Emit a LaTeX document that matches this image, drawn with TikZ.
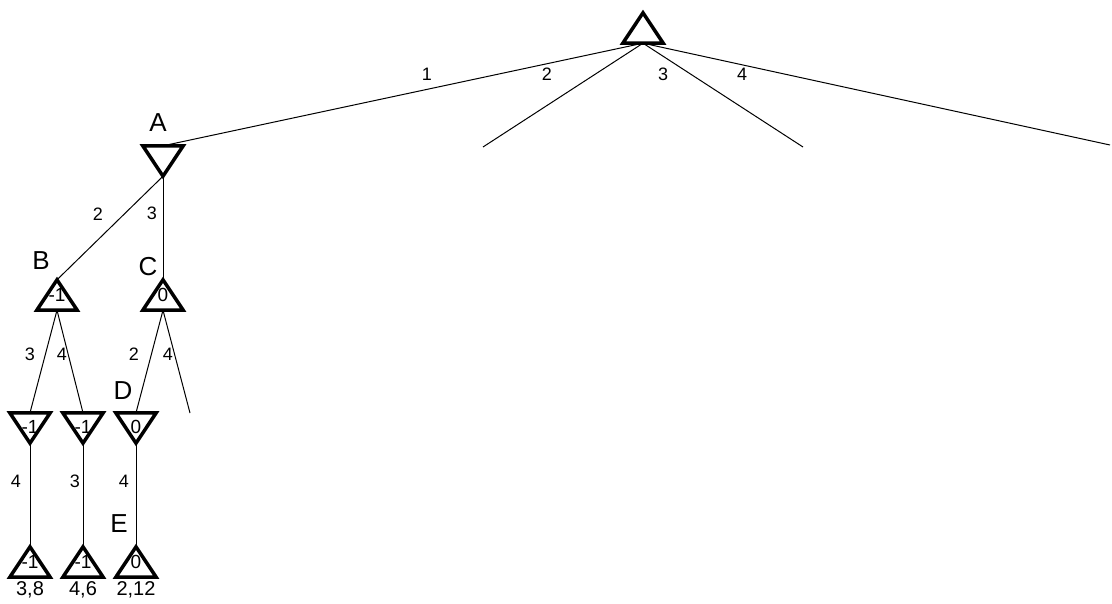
\documentclass[tikz,border=0pt]{standalone}
\usepackage{fontspec}
\setmainfont{Liberation Sans}
\begin{document}
\begin{tikzpicture}[x=1pt,y=-1pt,
  box/.style={minimum width=40pt,minimum height=30pt,inner sep=0pt,font=\fontsize{19}{19}\selectfont},
  tri/.style={line width=3.5pt,line join=miter},
  edge/.style={line width=1pt},
  elab/.style={font=\fontsize{18}{18}\selectfont,inner sep=0pt},
  nlab/.style={font=\fontsize{26}{26}\selectfont,inner sep=0pt},
  blab/.style={font=\fontsize{20}{20}\selectfont,inner sep=0pt}]
\useasboundingbox (0,0) rectangle (1112,603);
% nodes
\node[box] (R) at (643,28) {};
\node[box] (A) at (163,161) {};
\node[box] (B) at (57,295) {\raisebox{-3.5pt}{-1}};
\node[box] (C) at (163,295) {\raisebox{-3.5pt}{0}};
\node[box] (L1) at (30,428) {\raisebox{2.5pt}{-1}};
\node[box] (L2) at (83,428) {\raisebox{2.5pt}{-1}};
\node[box] (D) at (136,428) {\raisebox{2.5pt}{0}};
\node[box] (M1) at (30,562) {\raisebox{-3.5pt}{-1}};
\node[box] (M2) at (83,562) {\raisebox{-3.5pt}{-1}};
\node[box] (E) at (136,562) {\raisebox{-3.5pt}{0}};
\coordinate (f2) at (483,147);
\coordinate (f3) at (803,147);
\coordinate (f4) at (1110,145);
\coordinate (fc) at (190,413);
% triangles
\foreach \n in {R,B,C,M1,M2,E}
  \draw[tri] (\n.south west) -- (\n.south east) -- (\n.north) -- cycle;
\foreach \n in {A,L1,L2,D}
  \draw[tri] (\n.north west) -- (\n.north east) -- (\n.south) -- cycle;
% connectors
\draw[edge] (R.south) -- (A.north);
\draw[edge] (R.south) -- (f2);
\draw[edge] (R.south) -- (f3);
\draw[edge] (R.south) -- (f4);
\draw[edge] (A.south) -- (B.north);
\draw[edge] (A.south) -- (C.north);
\draw[edge] (B.south) -- (L1.north);
\draw[edge] (B.south) -- (L2.north);
\draw[edge] (C.south) -- (D.north);
\draw[edge] (C.south) -- (fc);
\draw[edge] (L1.south) -- (M1.north);
\draw[edge] (L2.south) -- (M2.north);
\draw[edge] (D.south) -- (E.north);
% edge labels
\node[elab] (e1) at (427,74) {1};
\node[elab] (e2) at (547,74) {2};
\node[elab] (e3) at (663,74) {3};
\node[elab] (e4) at (742,74) {4};
\node[elab] (e5) at (98,214) {2};
\node[elab] (e6) at (152,213) {3};
\node[elab] (e7) at (30,354) {3};
\node[elab] (e8) at (62,354) {4};
\node[elab] (e9) at (134,354) {2};
\node[elab] (e10) at (168,354) {4};
\node[elab] (e11) at (16,481) {4};
\node[elab] (e12) at (75,481) {3};
\node[elab] (e13) at (124,481) {4};
% node letters
\node[nlab] (tA) at (158,123) {A};
\node[nlab] (tB) at (41,261) {B};
\node[nlab] (tC) at (148,267) {C};
\node[nlab] (tD) at (123,391) {D};
\node[nlab] (tE) at (119,524) {E};
% bottom labels
\node[blab] (b1) at (30,590) {3,8};
\node[blab] (b2) at (83,590) {4,6};
\node[blab] (b3) at (136,590) {2,12};
\end{tikzpicture}
\end{document}
